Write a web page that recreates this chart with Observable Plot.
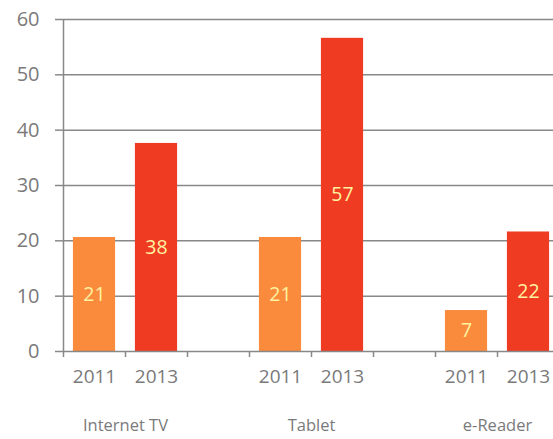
<!DOCTYPE html>
<html>
<head>
<meta charset="utf-8">
<script src="https://cdn.jsdelivr.net/npm/d3@7"></script>
<script src="https://cdn.jsdelivr.net/npm/@observablehq/plot@0.6"></script>
<style>
  html, body { margin: 0; padding: 0; overflow: hidden; background: #fff; }
  #chart { width: 553px; height: 439px; overflow: hidden; }
  #chart svg { overflow: hidden; }
</style>
</head>
<body>
<div id="chart"></div>
<script>
const categories = ["Internet TV", "Tablet", "e-Reader"];
const years = ["2011", "2013"];
const values2011 = [20.6, 20.6, 7.4];
const values2013 = [37.6, 56.6, 21.6];
const yTicks = [0, 10, 20, 30, 40, 50, 60];
const colors = ["#FB8B3C", "#EF3B22"];

const seriesValues = [values2011, values2013];
const rows = [];
categories.forEach((c, ci) => {
  years.forEach((yr, yi) => {
    rows.push({category: c, year: yr, value: seriesValues[yi][ci], slot: ci * 3 + yi});
  });
});
const groups = categories.map((c, ci) => ({category: c, center: ci * 3 + 1}));
const slotTicks = d3.range(0, 8);

const gray = "#888888";
const textGray = "#7a7a7a";
const font = "'Open Sans', sans-serif";

const chart = Plot.plot({
  width: 553,
  height: 439,
  marginLeft: 63,
  marginRight: -6,
  marginTop: 19,
  marginBottom: 88,
  style: {fontFamily: font, background: "#fff"},
  x: {type: "linear", domain: [0, 8], axis: null},
  y: {domain: [0, 60], axis: null},
  color: {domain: years, range: colors},
  marks: [
    Plot.gridY(yTicks.filter(d => d > 0), {stroke: gray, strokeOpacity: 1, strokeWidth: 1.5}),
    Plot.axisY({ticks: yTicks, label: null, tickSize: 8, tickPadding: 16, fontSize: 20, color: textGray, stroke: gray, strokeWidth: 1.5, tickFormat: d => String(d)}),
    Plot.axisX({ticks: slotTicks, label: null, tickSize: 6, tickFormat: () => "", stroke: gray, strokeWidth: 1.5}),
    Plot.rectY(rows, {x1: d => d.slot + 0.16, x2: d => d.slot + 0.84, y: "value", fill: "year"}),
    Plot.ruleX([0], {y1: 0, y2: 60, stroke: gray, strokeWidth: 1.5}),
    Plot.ruleY([0], {stroke: gray, strokeWidth: 1.5}),
    Plot.text(rows, {x: d => d.slot + 0.5, y: d => d.value / 2, text: d => String(Math.round(d.value)), fill: "#FFF2A0", fontSize: 19.5}),
    Plot.text(rows, {x: d => d.slot + 0.5, frameAnchor: "bottom", dy: 31, text: "year", fill: textGray, fontSize: 19}),
    Plot.text(groups, {x: "center", frameAnchor: "bottom", dy: 79, text: "category", fill: textGray, fontSize: 16.5})
  ]
});
document.getElementById("chart").append(chart);
</script>
</body>
</html>
